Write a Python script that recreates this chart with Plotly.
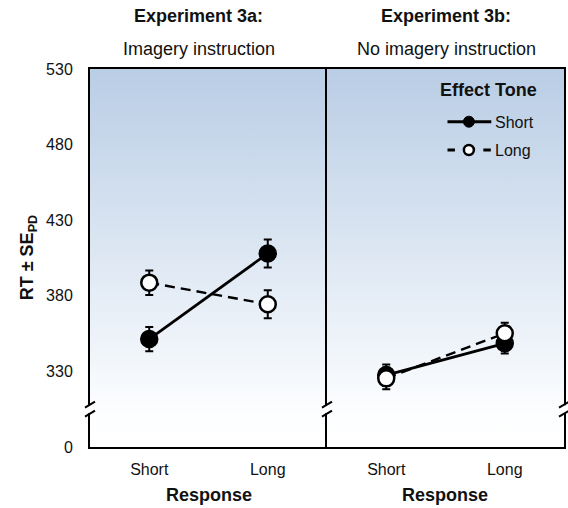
import plotly.graph_objects as go
from plotly.subplots import make_subplots

# ---------------- data ----------------
RESPONSES = ["Short", "Long"]
EXP_TITLES = ["Experiment 3a:", "Experiment 3b:"]
EXP_SUBTITLES = ["Imagery instruction", "No imagery instruction"]
TONE_NAMES = ["Short", "Long"]
LEGEND_TITLE = "Effect Tone"
X_TITLE = "Response"

# Experiment 3a (imagery instruction)
EXP3A_SHORT_TONE = [351.4, 408.0]
EXP3A_SHORT_TONE_SE = [8.0, 9.3]
EXP3A_LONG_TONE = [388.7, 374.4]
EXP3A_LONG_TONE_SE = [8.1, 9.3]

# Experiment 3b (no imagery instruction)
EXP3B_SHORT_TONE = [327.6, 348.6]
EXP3B_SHORT_TONE_SE = [7.0, 6.8]
EXP3B_LONG_TONE = [325.4, 355.2]
EXP3B_LONG_TONE_SE = [7.2, 7.0]

# broken axis: the lowest tick position carries the label "0"
Y_TICK_VALUES = [280, 330, 380, 430, 480, 530]
Y_TICK_LABELS = ["0", "330", "380", "430", "480", "530"]
Y_RANGE = [280, 530]
Y_BREAK = 305

# ---------------- layout constants ----------------
W, H = 568, 508
ML, MR, MT, MB = 90, 2, 69, 61
PW, PH = W - ML - MR, H - MT - MB
FONT = "Liberation Sans, Arial, sans-serif"
TXT = "#111111"


def px_x(p):
    return (p - ML) / PW


def px_y(p):
    return (H - MB - p) / PH


fig = make_subplots(rows=1, cols=2, shared_yaxes=True, horizontal_spacing=0)

x_pos = list(range(len(RESPONSES)))
x_lo, x_hi = -0.5, len(RESPONSES) - 0.5

panels = [
    (EXP3A_SHORT_TONE, EXP3A_SHORT_TONE_SE, EXP3A_LONG_TONE, EXP3A_LONG_TONE_SE),
    (EXP3B_SHORT_TONE, EXP3B_SHORT_TONE_SE, EXP3B_LONG_TONE, EXP3B_LONG_TONE_SE),
]

for i, (s, s_se, l, l_se) in enumerate(panels):
    col = i + 1
    # gradient background
    fig.add_trace(go.Scatter(
        x=[x_lo, x_hi, x_hi, x_lo, x_lo],
        y=[Y_RANGE[0], Y_RANGE[0], Y_RANGE[1], Y_RANGE[1], Y_RANGE[0]],
        mode="lines", fill="toself", line=dict(width=0),
        fillgradient=dict(type="vertical",
                          colorscale=[[0, "#ffffff"], [0.08, "#fdfeff"], [1, "#b9cde5"]]),
        hoverinfo="skip", showlegend=False), row=1, col=col)
    # short effect tone (filled, solid)
    fig.add_trace(go.Scatter(
        x=x_pos, y=s, mode="lines+markers", name=TONE_NAMES[0],
        line=dict(color="black", width=2.8),
        marker=dict(size=17, color="black", line=dict(color="black", width=1.5)),
        error_y=dict(type="data", array=s_se, color="black", thickness=2, width=4),
        showlegend=False), row=1, col=col)
    # long effect tone (open, dashed)
    fig.add_trace(go.Scatter(
        x=x_pos, y=l, mode="lines+markers", name=TONE_NAMES[1],
        line=dict(color="black", width=2.4, dash="10px,6px"),
        marker=dict(size=16, color="white", line=dict(color="black", width=2.5)),
        error_y=dict(type="data", array=l_se, color="black", thickness=2, width=4),
        showlegend=False), row=1, col=col)

axis_common = dict(showgrid=False, zeroline=False, showline=True, linecolor="black",
                   linewidth=2, mirror=True, ticks="")
for col in (1, 2):
    fig.update_xaxes(range=[x_lo, x_hi], tickvals=x_pos, ticktext=RESPONSES,
                     tickfont=dict(size=16, color=TXT, family=FONT),
                     ticklabelstandoff=7, row=1, col=col, **axis_common)
fig.update_yaxes(range=Y_RANGE, tickvals=Y_TICK_VALUES, ticktext=Y_TICK_LABELS,
                 tickfont=dict(size=16, color=TXT, family=FONT),
                 ticklabelstandoff=12, row=1, col=1, **axis_common)
fig.update_yaxes(range=Y_RANGE, showticklabels=False, row=1, col=2, **axis_common)


def ann(text, x, y, size, xanchor="center", angle=0):
    return dict(text=text, x=px_x(x), y=px_y(y), xref="paper", yref="paper",
                xanchor=xanchor, yanchor="middle", showarrow=False, textangle=angle,
                font=dict(size=size, color=TXT, family=FONT))


annotations = []
title_x = [199, 448]
resp_x = [209, 446]
for i in range(2):
    annotations.append(ann("<b>%s</b>" % EXP_TITLES[i], title_x[i], 16, 18))
    annotations.append(ann(EXP_SUBTITLES[i], title_x[i], 49, 18))
    annotations.append(ann("<b>%s</b>" % X_TITLE, resp_x[i], 495, 18))
annotations.append(ann("<b>RT ± SE<sub>PD</sub></b>", 28, 258, 18, angle=-90))
# manual legend
annotations.append(ann("<b>%s</b>" % LEGEND_TITLE, 490, 90, 18))
annotations.append(ann(TONE_NAMES[0], 495, 122, 16, xanchor="left"))
annotations.append(ann(TONE_NAMES[1], 495, 150, 16, xanchor="left"))

shapes = []
# legend keys
ly1, ly2 = px_y(121.7), px_y(150)
shapes.append(dict(type="line", xref="paper", yref="paper", x0=px_x(449), x1=px_x(493),
                   y0=ly1, y1=ly1, line=dict(color="black", width=3)))
shapes.append(dict(type="circle", xref="paper", yref="paper", xsizemode="pixel",
                   ysizemode="pixel", xanchor=px_x(470.5), yanchor=ly1,
                   x0=-5.5, x1=5.5, y0=-5.5, y1=5.5, fillcolor="black",
                   line=dict(color="black", width=1)))
for a, b in ((449, 456.5), (485, 492.5)):
    shapes.append(dict(type="line", xref="paper", yref="paper", x0=px_x(a), x1=px_x(b),
                       y0=ly2, y1=ly2, line=dict(color="black", width=3)))
shapes.append(dict(type="circle", xref="paper", yref="paper", xsizemode="pixel",
                   ysizemode="pixel", xanchor=px_x(470.5), yanchor=ly2,
                   x0=-5, x1=5, y0=-5, y1=5, fillcolor="white",
                   line=dict(color="black", width=2.5)))
# axis-break marks on the three vertical frame lines
for xs in (0.0, 0.5, 1.0):
    shapes.append(dict(type="rect", xref="paper", yref="y", xsizemode="pixel",
                       ysizemode="pixel", xanchor=xs, yanchor=Y_BREAK,
                       x0=-2.5, x1=2.5, y0=-4, y1=4, fillcolor="white",
                       line=dict(width=0), layer="above"))
    for yo in (4.5, -4.5):
        shapes.append(dict(type="line", xref="paper", yref="y", xsizemode="pixel",
                           ysizemode="pixel", xanchor=xs, yanchor=Y_BREAK,
                           x0=-5, x1=5, y0=yo - 3, y1=yo + 3,
                           line=dict(color="black", width=2), layer="above"))

fig.update_layout(
    width=W, height=H, margin=dict(l=ML, r=MR, t=MT, b=MB),
    paper_bgcolor="white", plot_bgcolor="white",
    font=dict(family=FONT, color=TXT),
    annotations=annotations, shapes=shapes, showlegend=False,
)

fig.write_html("out.html", config={"displayModeBar": False},
               post_script="document.body.style.margin='0';document.body.style.overflow='hidden';")
